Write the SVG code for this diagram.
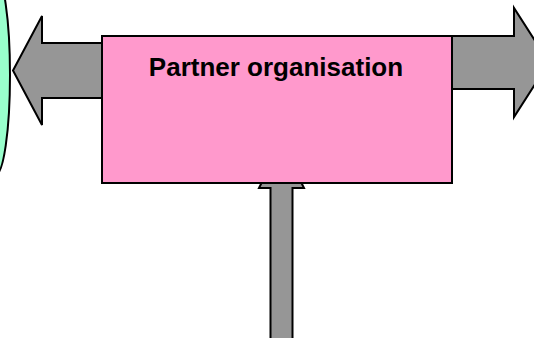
<svg xmlns="http://www.w3.org/2000/svg" width="534" height="338" viewBox="0 0 534 338">
<style>
.arrow{fill:#969696;stroke:#000;stroke-width:2;stroke-linejoin:miter}
.label{font-family:"Liberation Sans",Arial,sans-serif;font-weight:bold;font-size:26px;fill:#000}
</style>
<rect width="534" height="338" fill="#fff"/>
<g id="ellipse-left">
<ellipse cx="-4.6" cy="75" rx="14.6" ry="100" fill="#99ffcc" stroke="#000" stroke-width="2"/>
</g>
<g id="connectors">
<path id="arrow-left" class="arrow" d="M13,70.5 L42,16 L42,43 L110,43 L110,98 L42,98 L42,125 Z"/>
<path id="arrow-right" class="arrow" d="M445,36 L514,36 L514,8 L549,62.5 L514,117 L514,89 L445,89 Z"/>
<path id="arrow-bottom" class="arrow" d="M281.5,143 L304,188 L292.5,188 L292.5,340 L270.5,340 L270.5,188 L259,188 Z"/>
</g>
<g id="partner-organisation">
<rect x="102" y="36" width="350" height="147" fill="#ff99cc" stroke="#000" stroke-width="2"/>
<text class="label" x="276" y="76" text-anchor="middle">Partner organisation</text>
</g>
</svg>
